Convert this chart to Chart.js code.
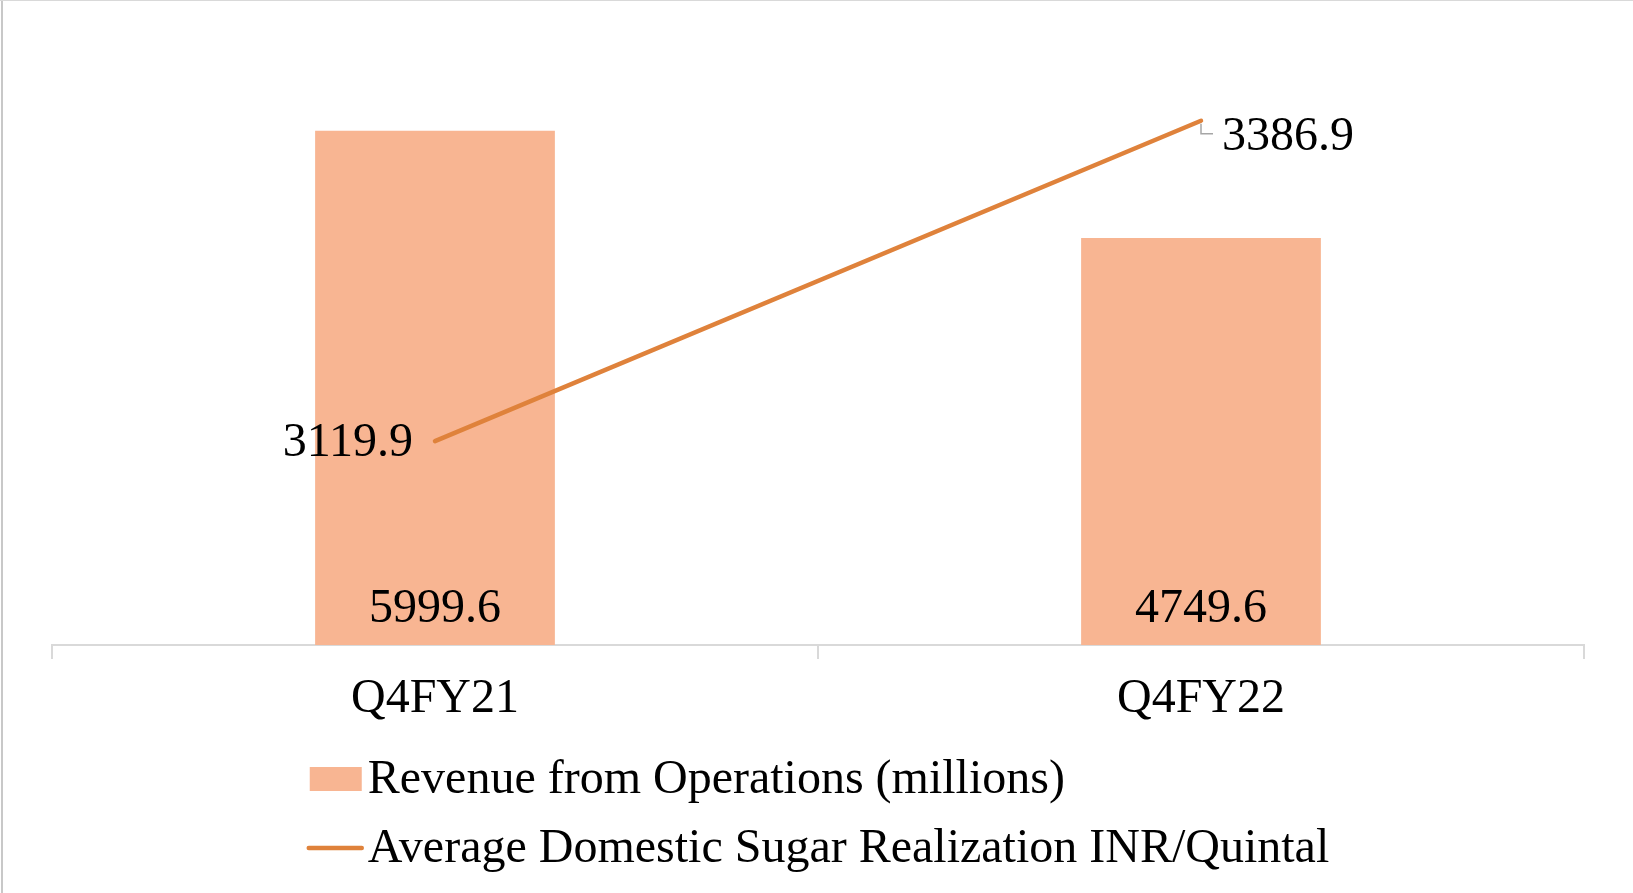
<!DOCTYPE html>
<html>
<head>
<meta charset="utf-8">
<script src="https://cdn.jsdelivr.net/npm/chart.js@4/dist/chart.umd.min.js"></script>
<style>
  html, body { margin: 0; padding: 0; background: #fff; }
  canvas { display: block; }
</style>
</head>
<body>
<canvas id="chart" width="1633" height="893"></canvas>
<script>
// chart data
var categories = ['Q4FY21', 'Q4FY22'];
var revenue = [5999.6, 4749.6];
var sugarRealization = [3119.9, 3386.9];
var seriesNames = ['Revenue from Operations (millions)', 'Average Domestic Sugar Realization INR/Quintal'];

var barColor = '#F8B592';
var lineColor = '#DF823B';
var serif = '"Liberation Serif", "Times New Roman", serif';

// frame: left and top border of the original picture
var framePlugin = {
  id: 'frame',
  beforeDraw: function(chart) {
    var ctx = chart.ctx;
    ctx.save();
    ctx.fillStyle = '#fff';
    ctx.fillRect(0, 0, chart.width, chart.height);
    ctx.fillStyle = '#c8c8c8';
    ctx.fillRect(1, 0, 2, chart.height);
    ctx.fillStyle = '#d9d9d9';
    ctx.fillRect(0, 0, chart.width, 1);
    ctx.restore();
  }
};

// value labels, Excel style
var labelPlugin = {
  id: 'valueLabels',
  afterDatasetsDraw: function(chart) {
    var ctx = chart.ctx;
    ctx.save();
    ctx.font = '48px ' + serif;
    ctx.fillStyle = '#000';
    ctx.textBaseline = 'middle';

    var barMeta = chart.getDatasetMeta(0);
    barMeta.data.forEach(function(el, i) {
      ctx.textAlign = 'center';
      ctx.fillText(revenue[i].toFixed(1), el.x, el.base - 36);
    });

    var lineMeta = chart.getDatasetMeta(1);
    var p0 = lineMeta.data[0], p1 = lineMeta.data[1];
    ctx.textAlign = 'right';
    ctx.fillText(sugarRealization[0].toFixed(1), p0.x - 22, p0.y + 2);
    ctx.textAlign = 'left';
    ctx.fillText(sugarRealization[1].toFixed(1), p1.x + 21, p1.y + 17);

    // leader line for the second label
    ctx.strokeStyle = '#a6a6a6';
    ctx.lineWidth = 1.5;
    ctx.beginPath();
    ctx.moveTo(p1.x, p1.y + 3);
    ctx.lineTo(p1.x, p1.y + 13);
    ctx.lineTo(p1.x + 12, p1.y + 13);
    ctx.stroke();
    ctx.restore();
  }
};

// legend: two rows, left aligned, block centred under the plot
var legendPlugin = {
  id: 'stackLegend',
  afterDraw: function(chart) {
    var ctx = chart.ctx;
    var area = chart.chartArea;
    ctx.save();
    ctx.font = '48px ' + serif;
    var textW = Math.max(ctx.measureText(seriesNames[0]).width, ctx.measureText(seriesNames[1]).width);
    var markW = 56, gap = 5;
    var left = (area.left + area.right) / 2 - (markW + gap + textW) / 2;
    var row1 = area.bottom + 134, row2 = area.bottom + 203;

    ctx.fillStyle = barColor;
    ctx.fillRect(left + 3, row1 - 12, 52, 24);

    ctx.strokeStyle = lineColor;
    ctx.lineWidth = 4.5;
    ctx.lineCap = 'round';
    ctx.beginPath();
    ctx.moveTo(left + 2, row2);
    ctx.lineTo(left + markW - 1, row2);
    ctx.stroke();

    ctx.fillStyle = '#000';
    ctx.textAlign = 'left';
    ctx.textBaseline = 'middle';
    ctx.fillText(seriesNames[0], left + markW + gap, row1 + 1);
    ctx.fillText(seriesNames[1], left + markW + gap, row2 + 1);
    ctx.restore();
  }
};

var ctx = document.getElementById('chart').getContext('2d');
var chart = new Chart(ctx, {
  data: {
    labels: categories,
    datasets: [{
      type: 'bar',
      label: seriesNames[0],
      data: revenue,
      backgroundColor: barColor,
      borderWidth: 0,
      barPercentage: 0.313,
      categoryPercentage: 1,
      yAxisID: 'y',
      order: 2
    }, {
      type: 'line',
      label: seriesNames[1],
      data: sugarRealization,
      borderColor: lineColor,
      borderWidth: 4.5,
      borderCapStyle: 'round',
      pointRadius: 0,
      fill: false,
      tension: 0,
      yAxisID: 'y2',
      order: 1
    }]
  },
  options: {
    responsive: false,
    animation: false,
    devicePixelRatio: 1,
    layout: { padding: { left: 52, right: 49, top: 45, bottom: 138 } },
    plugins: {
      legend: { display: false },
      tooltip: { enabled: false }
    },
    scales: {
      x: {
        offset: true,
        grid: {
          offset: true,
          drawOnChartArea: false,
          drawTicks: true,
          tickLength: 14,
          color: '#d9d9d9',
          lineWidth: 2
        },
        border: { display: true, color: '#d9d9d9', width: 2 },
        ticks: {
          color: '#000',
          padding: 12,
          font: { family: serif, size: 48 }
        },
        afterFit: function(scale) { scale.height = 110; }
      },
      y: { display: false, min: 0, max: 7000 },
      y2: { display: false, min: 2950, max: 3450 }
    }
  },
  plugins: [framePlugin, labelPlugin, legendPlugin]
});
</script>
</body>
</html>
